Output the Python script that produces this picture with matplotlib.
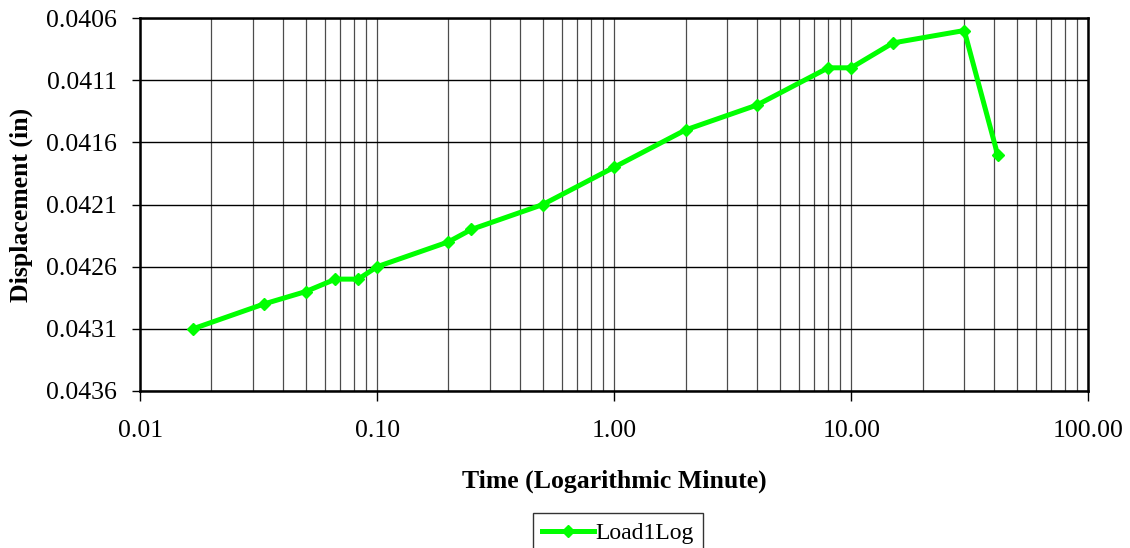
import matplotlib
matplotlib.use('Agg')
import matplotlib.pyplot as plt
from matplotlib.ticker import FixedLocator, FuncFormatter, LogLocator, NullFormatter

plt.rcParams['font.family'] = ['Liberation Serif', 'DejaVu Serif']

# time in minutes and displacement in inches
time_min = [0.0167, 0.0333, 0.05, 0.0667, 0.0833, 0.1, 0.2, 0.25, 0.5,
            1.0, 2.0, 4.0, 8.0, 10.0, 15.0, 30.0, 41.5]
disp_in = [0.0431, 0.0429, 0.0428, 0.0427, 0.0427, 0.0426, 0.0424, 0.0423,
           0.0421, 0.0418, 0.0415, 0.0413, 0.0410, 0.0410, 0.0408, 0.0407, 0.0417]
y_ticks = [0.0406, 0.0411, 0.0416, 0.0421, 0.0426, 0.0431, 0.0436]
series_name = 'Load1Log'

fig = plt.figure(figsize=(11.3, 5.48), dpi=100)
ax = fig.add_axes([0.124, 0.2865, 0.839, 0.6805])

ax.plot(time_min, disp_in, color='#00FF00', lw=3.6, marker='D', ms=6.5,
        label=series_name, zorder=3)

ax.set_xscale('log')
ax.set_xlim(0.01, 100)
ax.set_ylim(0.0436, 0.0406)
ax.yaxis.set_major_locator(FixedLocator(y_ticks))
ax.yaxis.set_major_formatter(FuncFormatter(lambda v, p: '%.4f' % v))
ax.xaxis.set_major_formatter(FuncFormatter(lambda v, p: '%.2f' % v))
ax.xaxis.set_minor_locator(LogLocator(base=10, subs=range(2, 10)))
ax.xaxis.set_minor_formatter(NullFormatter())

ax.grid(True, which='major', axis='y', color='black', lw=1)
ax.grid(True, which='both', axis='x', color='black', lw=0.9, alpha=0.7)
ax.set_axisbelow(True)

for s in ax.spines.values():
    s.set_linewidth(1.8)
ax.tick_params(axis='y', which='major', direction='out', length=6, width=1,
               labelsize=18.5, pad=11)
ax.tick_params(axis='x', which='major', direction='out', length=7, width=1,
               labelsize=18.5, pad=14)
ax.tick_params(axis='x', which='minor', length=0)

ax.set_xlabel('Time (Logarithmic Minute)', fontsize=18.5, fontweight='bold', labelpad=20)
ax.set_ylabel('Displacement (in)', fontsize=18.5, fontweight='bold', labelpad=9)

leg = fig.legend(loc='upper center', bbox_to_anchor=(0.547, 0.064), fontsize=17,
                 frameon=True, fancybox=False, edgecolor='black', handlelength=2.2,
                 borderpad=0.4, handletextpad=0.05, borderaxespad=0)
leg.get_frame().set_linewidth(1)

fig.savefig('out.png', dpi=100)
